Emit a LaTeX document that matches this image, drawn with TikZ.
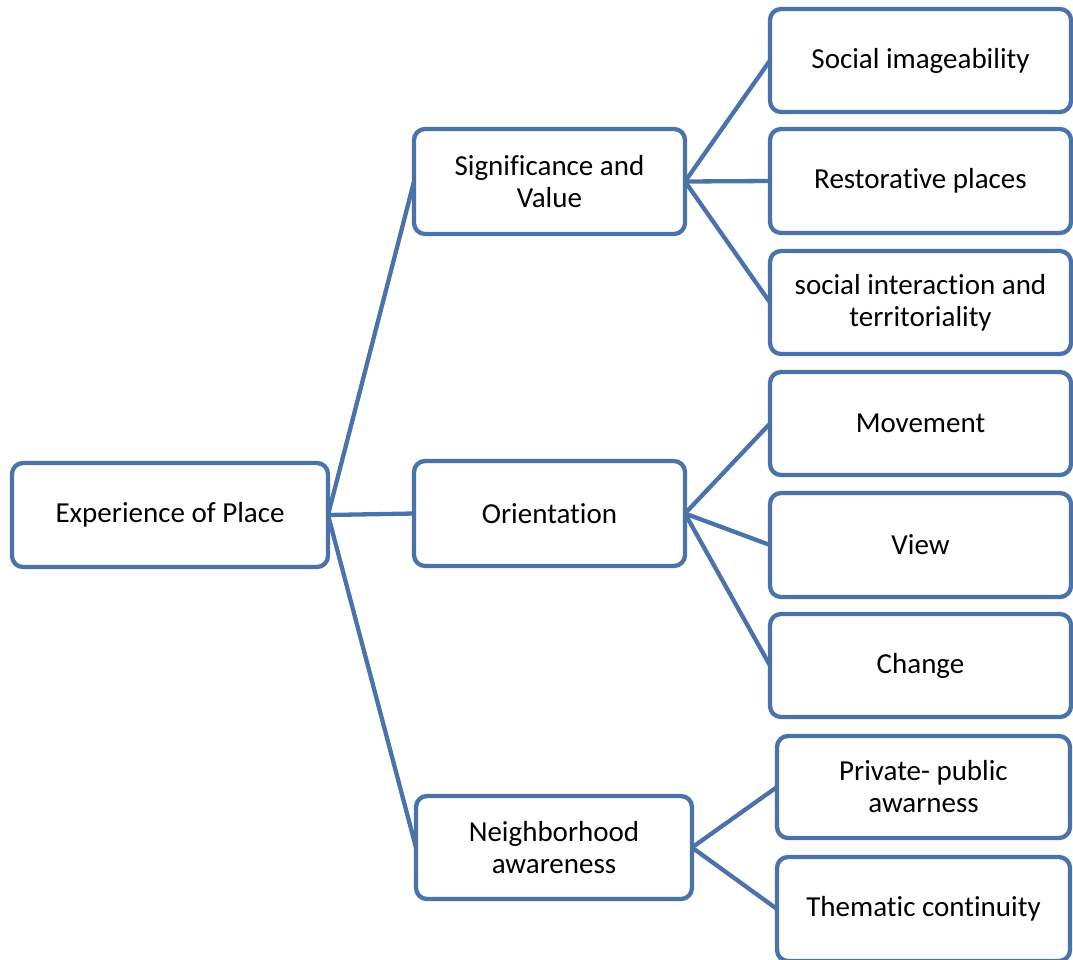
\documentclass[tikz,border=0pt]{standalone}
\usepackage{fontspec}
\setmainfont[Ligatures=NoCommon]{Carlito}
\definecolor{bl}{HTML}{4A73A9}
\begin{document}
\begin{tikzpicture}[x=1pt,y=-1pt,
  box/.style={draw=bl,line width=4.3pt,rounded corners=11pt,fill=white,inner sep=0pt,outer sep=0pt,
    align=center,font=\fontsize{29}{32}\selectfont},
  link/.style={draw=bl,line width=4.3pt}]
\clip (0,0) rectangle (1073,959);
\useasboundingbox (0,0) rectangle (1073,959);
\node[box,minimum width=316pt,minimum height=104pt] (root) at (170,515) {Experience of Place};
\node[box,minimum width=271pt,minimum height=105pt] (sig) at (549.5,181.5) {Significance and\\Value};
\node[box,minimum width=271pt,minimum height=105pt] (ori) at (549.5,513.5) {Orientation};
\node[box,minimum width=276pt,minimum height=103pt] (nei) at (554,847.5) {Neighborhood\\awareness};
\node[box,minimum width=301pt,minimum height=103pt] (s1) at (920.5,60.5) {Social imageability};
\node[box,minimum width=301pt,minimum height=104pt] (s2) at (920.5,181) {Restorative places};
\node[box,minimum width=301pt,minimum height=103pt] (s3) at (920.5,302.5) {social interaction and\\territoriality};
\node[box,minimum width=301pt,minimum height=103pt] (o1) at (920.5,423.5) {Movement};
\node[box,minimum width=301pt,minimum height=104pt] (o2) at (920.5,545) {View};
\node[box,minimum width=301pt,minimum height=103pt] (o3) at (920.5,665.5) {Change};
\node[box,minimum width=293pt,minimum height=102pt] (n1) at (923.5,787) {Private- public\\awarness};
\node[box,minimum width=293pt,minimum height=104pt] (n2) at (923.5,909) {Thematic continuity};
\draw[link] (root.east) -- (sig.west);
\draw[link] (root.east) -- (ori.west);
\draw[link] (root.east) -- (nei.west);
\draw[link] (sig.east) -- (s1.west);
\draw[link] (sig.east) -- (s2.west);
\draw[link] (sig.east) -- (s3.west);
\draw[link] (ori.east) -- (o1.west);
\draw[link] (ori.east) -- (o2.west);
\draw[link] (ori.east) -- (o3.west);
\draw[link] (nei.east) -- (n1.west);
\draw[link] (nei.east) -- (n2.west);
\end{tikzpicture}
\end{document}
